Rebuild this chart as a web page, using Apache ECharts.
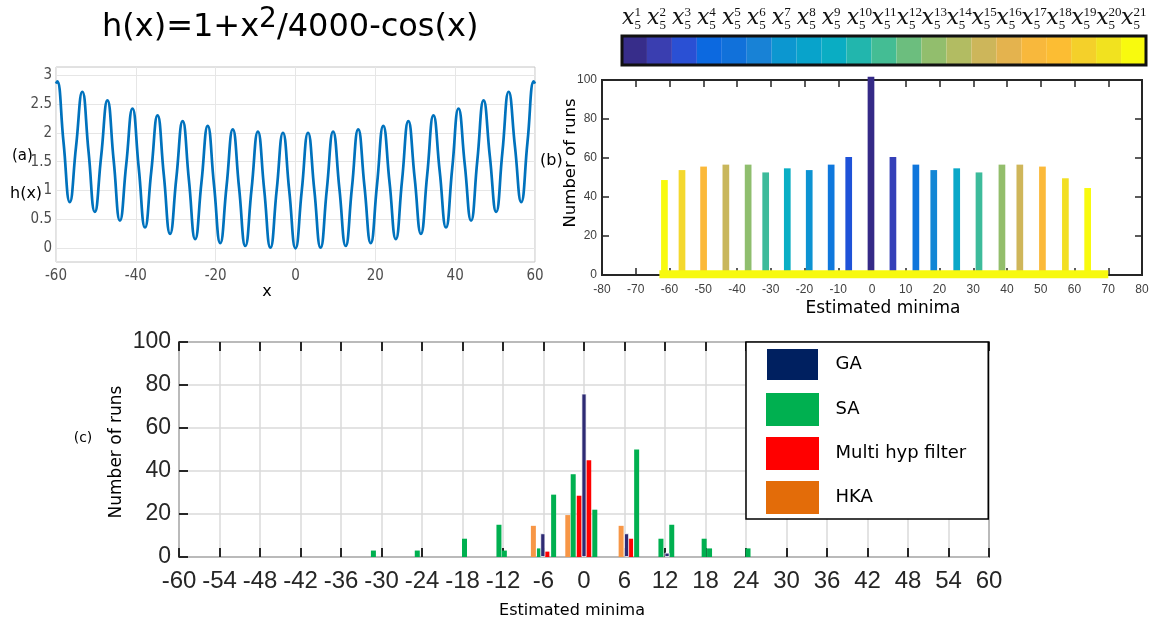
<!DOCTYPE html>
<html><head><meta charset="utf-8">
<script src="https://cdn.jsdelivr.net/npm/echarts@6/dist/echarts.min.js"></script>
<style>html,body{margin:0;padding:0;background:#fff}#c{width:1156px;height:628px}</style>
</head><body><div id="c"></div>
<script>
// ---------- panel (a): h(x) read at extrema and mid-crossings ----------
const curveX = [-60, -59.69, -58.12, -56.55, -54.98, -53.41, -51.84, -50.27, -48.69, -47.12, -45.55, -43.98, -42.41, -40.84, -39.27, -37.70, -36.13, -34.56, -32.99, -31.42, -29.85, -28.27, -26.70, -25.13, -23.56, -21.99, -20.42, -18.85, -17.28, -15.71, -14.14, -12.57, -11.00, -9.42, -7.85, -6.28, -4.71, -3.14, -1.57, 0, 1.57, 3.14, 4.71, 6.28, 7.85, 9.42, 11.00, 12.57, 14.14, 15.71, 17.28, 18.85, 20.42, 21.99, 23.56, 25.13, 26.70, 28.27, 29.85, 31.42, 32.99, 34.56, 36.13, 37.70, 39.27, 40.84, 42.41, 43.98, 45.55, 47.12, 48.69, 50.27, 51.84, 53.41, 54.98, 56.55, 58.12, 59.69, 60];
const curveH = [2.85, 2.89, 1.84, 0.80, 1.76, 2.71, 1.67, 0.63, 1.59, 2.56, 1.52, 0.48, 1.45, 2.42, 1.39, 0.36, 1.33, 2.30, 1.27, 0.25, 1.22, 2.20, 1.18, 0.16, 1.14, 2.12, 1.10, 0.09, 1.07, 2.06, 1.05, 0.04, 1.03, 2.02, 1.02, 0.01, 1.01, 2.00, 1.00, 0.00, 1.00, 2.00, 1.01, 0.01, 1.02, 2.02, 1.03, 0.04, 1.05, 2.06, 1.07, 0.09, 1.10, 2.12, 1.14, 0.16, 1.18, 2.20, 1.22, 0.25, 1.27, 2.30, 1.33, 0.36, 1.39, 2.42, 1.45, 0.48, 1.52, 2.56, 1.59, 0.63, 1.67, 2.71, 1.76, 0.80, 1.84, 2.89, 2.85];

// ---------- colorbar ----------
const cbIndex = ['1','2','3','4','5','6','7','8','9','10','11','12','13','14','15','16','17','18','19','20','21'];
const cbColors = ['#372d8a','#3a3eb0','#2a50d4','#0c69e0','#1171da','#1882d6','#0c97d0','#08a3cb','#0aadc3','#22b6ad','#44bd94','#6cbe7e','#92be6d','#b2bc62','#cdb65a','#e4b34e','#f8b83c','#fcbd33','#f4d02a','#f1e21f','#f8fa0e'];

// ---------- panel (b) ----------
const bMinima = [-61.5, -56.3, -49.9, -43.3, -36.7, -31.5, -25.1, -18.6, -12.1, -6.9, -0.3, 6.2, 13.0, 18.3, 25.1, 31.7, 38.5, 43.8, 50.5, 57.3, 63.9];
const bRuns = [48.7, 53.8, 55.6, 56.6, 56.6, 52.6, 54.7, 53.8, 56.6, 60.5, 101.7, 60.5, 56.6, 53.8, 54.7, 52.6, 56.6, 56.6, 55.6, 49.6, 44.6];
const bColors = ['#f8fa0e','#f4d82e','#fbb93a','#c9b75c','#8fbe6e','#3dbb9b','#0aaec4','#0d93d2','#0f78dd','#1f52d8','#352a87','#3540b8','#0f76dc','#1286d5','#0aa8c8','#3dbb9b','#93be6c','#cfb65a','#fbb93a','#f2df24','#f8fa0e'];
const bBandX = [-63, 70];
const bBandRuns = [0.4, 0.4];

// ---------- panel (c) ----------
const gaMinima = [-6.1, 0, 6.3, 12.3];
const gaRuns = [11, 76, 11, 2];
const saMinima = [-31.2, -24.7, -17.7, -12.6, -11.8, -6.6, -4.5, -1.6, 1.6, 7.8, 11.4, 13.0, 17.8, 18.6, 24.3];
const saRuns = [3, 3, 8.5, 15, 3, 4, 29, 38.5, 22, 50, 8.5, 15, 8.5, 4, 4];
const mhMinima = [-5.5, -0.7, 0.7, 6.9];
const mhRuns = [2.5, 28.5, 45, 8.5];
const hkaMinima = [-7.5, -2.4, 5.5];
const hkaRuns = [14.5, 19.5, 14.5];

const pairs = (xs, ys) => xs.map((x, i) => [x, ys[i]]);
const SANS = 'DejaVu Sans';
const TICKF = 'Liberation Sans';
const NARROW = 'Liberation Sans Narrow, DejaVu Sans Condensed, Liberation Sans';
const dark = '#262626';

const chart = echarts.init(document.getElementById('c'), null, {renderer: 'canvas'});
const tickIn = (len, w) => ({show: true, inside: true, length: len, lineStyle: {color: dark, width: w}});
const noLine = {show: false, onZero: false};

const option = {
  animation: false,
  backgroundColor: '#fff',
  grid: [
    {left: 56, top: 67, width: 479, height: 195, show: true, borderColor: '#c4c4c4', borderWidth: 1, outerBoundsMode: 'none'},
    {left: 56, top: 75, width: 479, height: 173.3, outerBoundsMode: 'none'},
    {left: 602, top: 80, width: 540, height: 195, show: true, borderColor: dark, borderWidth: 2, outerBoundsMode: 'none'},
    {left: 622, top: 36, width: 524, height: 29, show: true, borderColor: '#111', borderWidth: 3, z: 10, outerBoundsMode: 'none'},
    {left: 179, top: 342, width: 810, height: 215, show: true, borderColor: dark, borderWidth: 1.5, outerBoundsMode: 'none'}
  ],
  xAxis: [
    {gridIndex: 0, type: 'value', min: -60, max: 60, interval: 20, axisLine: noLine, axisTick: {show: false},
     axisLabel: {margin: 7, fontSize: 15, fontFamily: NARROW, color: '#4d4d4d'},
     splitLine: {show: true, lineStyle: {color: '#e6e6e6', width: 1}}},
    {gridIndex: 1, type: 'value', min: -60, max: 60, show: false, axisLine: noLine},
    {gridIndex: 2, type: 'value', min: -80, max: 80, interval: 10, axisLine: noLine, axisTick: tickIn(7, 1.5),
     axisLabel: {margin: 9, fontSize: 12, fontFamily: TICKF, color: '#404040'}, splitLine: {show: false}},
    {gridIndex: 2, type: 'value', position: 'top', min: -80, max: 80, interval: 10, axisLine: noLine, axisTick: tickIn(7, 1.5),
     axisLabel: {show: false}, splitLine: {show: false}},
    {gridIndex: 3, type: 'category', position: 'top', data: cbIndex, axisLine: noLine, axisTick: {show: false},
     axisLabel: {interval: 0, margin: 7, align: 'right', formatter: () => 'x', fontFamily: 'DejaVu Serif', fontStyle: 'italic', fontSize: 22, color: '#111'}},
    {gridIndex: 3, type: 'category', position: 'top', data: cbIndex, axisLine: noLine, axisTick: {show: false},
     axisLabel: {interval: 0, margin: 4, align: 'left', formatter: (v) => v + '\n5', fontFamily: 'Liberation Serif', fontSize: 13, lineHeight: 13, color: '#111'}},
    {gridIndex: 4, type: 'value', min: -60, max: 60, interval: 6, axisLine: noLine, axisTick: tickIn(9, 2),
     axisLabel: {margin: 12, fontSize: 24, fontFamily: TICKF, color: dark},
     splitLine: {show: true, lineStyle: {color: '#dadada', width: 1.5}}},
    {gridIndex: 4, type: 'value', position: 'top', min: -60, max: 60, interval: 6, axisLine: noLine, axisTick: tickIn(9, 2),
     axisLabel: {show: false}, splitLine: {show: false}}
  ],
  yAxis: [
    {gridIndex: 0, type: 'value', min: 0, max: 1, show: false, axisLine: noLine},
    {gridIndex: 1, type: 'value', min: 0, max: 3, interval: 0.5, axisLine: noLine, axisTick: {show: false},
     axisLabel: {margin: 4, fontSize: 15, fontFamily: NARROW, color: '#4d4d4d'},
     splitLine: {show: true, lineStyle: {color: '#e6e6e6', width: 1}}},
    {gridIndex: 2, type: 'value', min: 0, max: 100, interval: 20, axisLine: noLine, axisTick: tickIn(7, 1.5),
     axisLabel: {margin: 5, fontSize: 12, fontFamily: TICKF, color: '#404040'}, splitLine: {show: false}},
    {gridIndex: 2, type: 'value', position: 'right', min: 0, max: 100, interval: 20, axisLine: noLine, axisTick: tickIn(7, 1.5),
     axisLabel: {show: false}, splitLine: {show: false}},
    {gridIndex: 3, type: 'value', min: 0, max: 1, show: false, axisLine: noLine},
    {gridIndex: 4, type: 'value', min: 0, max: 100, interval: 20, axisLine: noLine, axisTick: tickIn(9, 2),
     axisLabel: {margin: 8, fontSize: 23, fontFamily: TICKF, color: dark},
     splitLine: {show: true, lineStyle: {color: '#dadada', width: 1.5}}}
  ],
  legend: {
    orient: 'vertical', left: 746, top: 342, padding: [5, 22, 5, 19],
    itemWidth: 53, itemHeight: 33, itemGap: 11, icon: 'rect',
    backgroundColor: '#fff', borderColor: '#000', borderWidth: 1.5,
    formatter: (n) => '  ' + n,
    textStyle: {fontFamily: SANS, fontSize: 18, color: '#000'},
    data: [
      {name: 'GA', itemStyle: {color: '#002060'}},
      {name: 'SA', itemStyle: {color: '#00b050'}},
      {name: 'Multi hyp filter', itemStyle: {color: '#ff0000'}},
      {name: 'HKA', itemStyle: {color: '#e36c09'}}
    ]
  },
  graphic: [
    {type: 'text', x: 102, y: 6, style: {
      text: '{a|h(x)=1+x}{s|2}{a|/4000-cos(x)}', align: 'left', verticalAlign: 'top',
      rich: {
        a: {fontFamily: SANS, fontSize: 32, lineHeight: 44, fill: '#000'},
        s: {fontFamily: SANS, fontSize: 28, lineHeight: 22, verticalAlign: 'top', fill: '#000'}
      }}},
    {type: 'text', x: 12, y: 156, style: {text: '(a)', fontFamily: SANS, fontSize: 15, fill: '#000', align: 'left', verticalAlign: 'middle'}},
    {type: 'text', x: 10, y: 194, style: {text: 'h(x)', fontFamily: SANS, fontSize: 16, fill: '#000', align: 'left', verticalAlign: 'middle'}},
    {type: 'text', x: 267, y: 292, style: {text: 'x', fontFamily: SANS, fontSize: 16, fill: '#000', align: 'center', verticalAlign: 'middle'}},
    {type: 'text', x: 540, y: 161, style: {text: '(b)', fontFamily: SANS, fontSize: 16, fill: '#000', align: 'left', verticalAlign: 'middle'}},
    {type: 'text', x: 571, y: 163, rotation: Math.PI / 2, style: {text: 'Number of runs', fontFamily: SANS, fontSize: 16.5, fill: '#000', align: 'center', verticalAlign: 'middle'}},
    {type: 'text', x: 883, y: 309, style: {text: 'Estimated minima', fontFamily: SANS, fontSize: 17, fill: '#000', align: 'center', verticalAlign: 'middle'}},
    {type: 'text', x: 83, y: 438, style: {text: '(c)', fontFamily: SANS, fontSize: 14, fill: '#000', align: 'center', verticalAlign: 'middle'}},
    {type: 'text', x: 117, y: 452, rotation: Math.PI / 2, style: {text: 'Number of runs', fontFamily: SANS, fontSize: 17, fill: '#000', align: 'center', verticalAlign: 'middle'}},
    {type: 'text', x: 572, y: 611, style: {text: 'Estimated minima', fontFamily: SANS, fontSize: 16, fill: '#000', align: 'center', verticalAlign: 'middle'}}
  ],
  series: [
    {name: 'h', type: 'line', xAxisIndex: 1, yAxisIndex: 1, data: pairs(curveX, curveH), smooth: 0.5,
     showSymbol: false, lineStyle: {color: '#0072bd', width: 2.7}, clip: false},
    {name: 'b-runs', type: 'bar', xAxisIndex: 2, yAxisIndex: 2, barWidth: 6.7, clip: false,
     data: bMinima.map((x, i) => ({value: [x, bRuns[i]], itemStyle: {color: bColors[i]}}))},
    {name: 'b-band', type: 'line', xAxisIndex: 2, yAxisIndex: 2, data: pairs(bBandX, bBandRuns), showSymbol: false,
     lineStyle: {color: '#f7f90f', width: 8}, clip: false, z: 3},
    {name: 'cb', type: 'bar', xAxisIndex: 4, yAxisIndex: 4, barWidth: '100%',
     data: cbIndex.map((k, i) => ({value: 1, itemStyle: {color: cbColors[i]}}))},
    {name: 'HKA', type: 'bar', xAxisIndex: 6, yAxisIndex: 5, barWidth: 5, barGap: '-100%', data: pairs(hkaMinima, hkaRuns), itemStyle: {color: '#f79646'}},
    {name: 'SA', type: 'bar', xAxisIndex: 6, yAxisIndex: 5, barWidth: 5, barGap: '-100%', data: pairs(saMinima, saRuns), itemStyle: {color: '#00b050'}},
    {name: 'Multi hyp filter', type: 'bar', xAxisIndex: 6, yAxisIndex: 5, barWidth: 5, barGap: '-100%', data: pairs(mhMinima, mhRuns), itemStyle: {color: '#ff0000'}},
    {name: 'GA', type: 'bar', xAxisIndex: 6, yAxisIndex: 5, barWidth: 5, barGap: '-100%', data: pairs(gaMinima, gaRuns),
     itemStyle: {color: '#2e2b74', borderColor: '#fff', borderWidth: 0.8}}
  ]
};
chart.setOption(option);
</script></body></html>
